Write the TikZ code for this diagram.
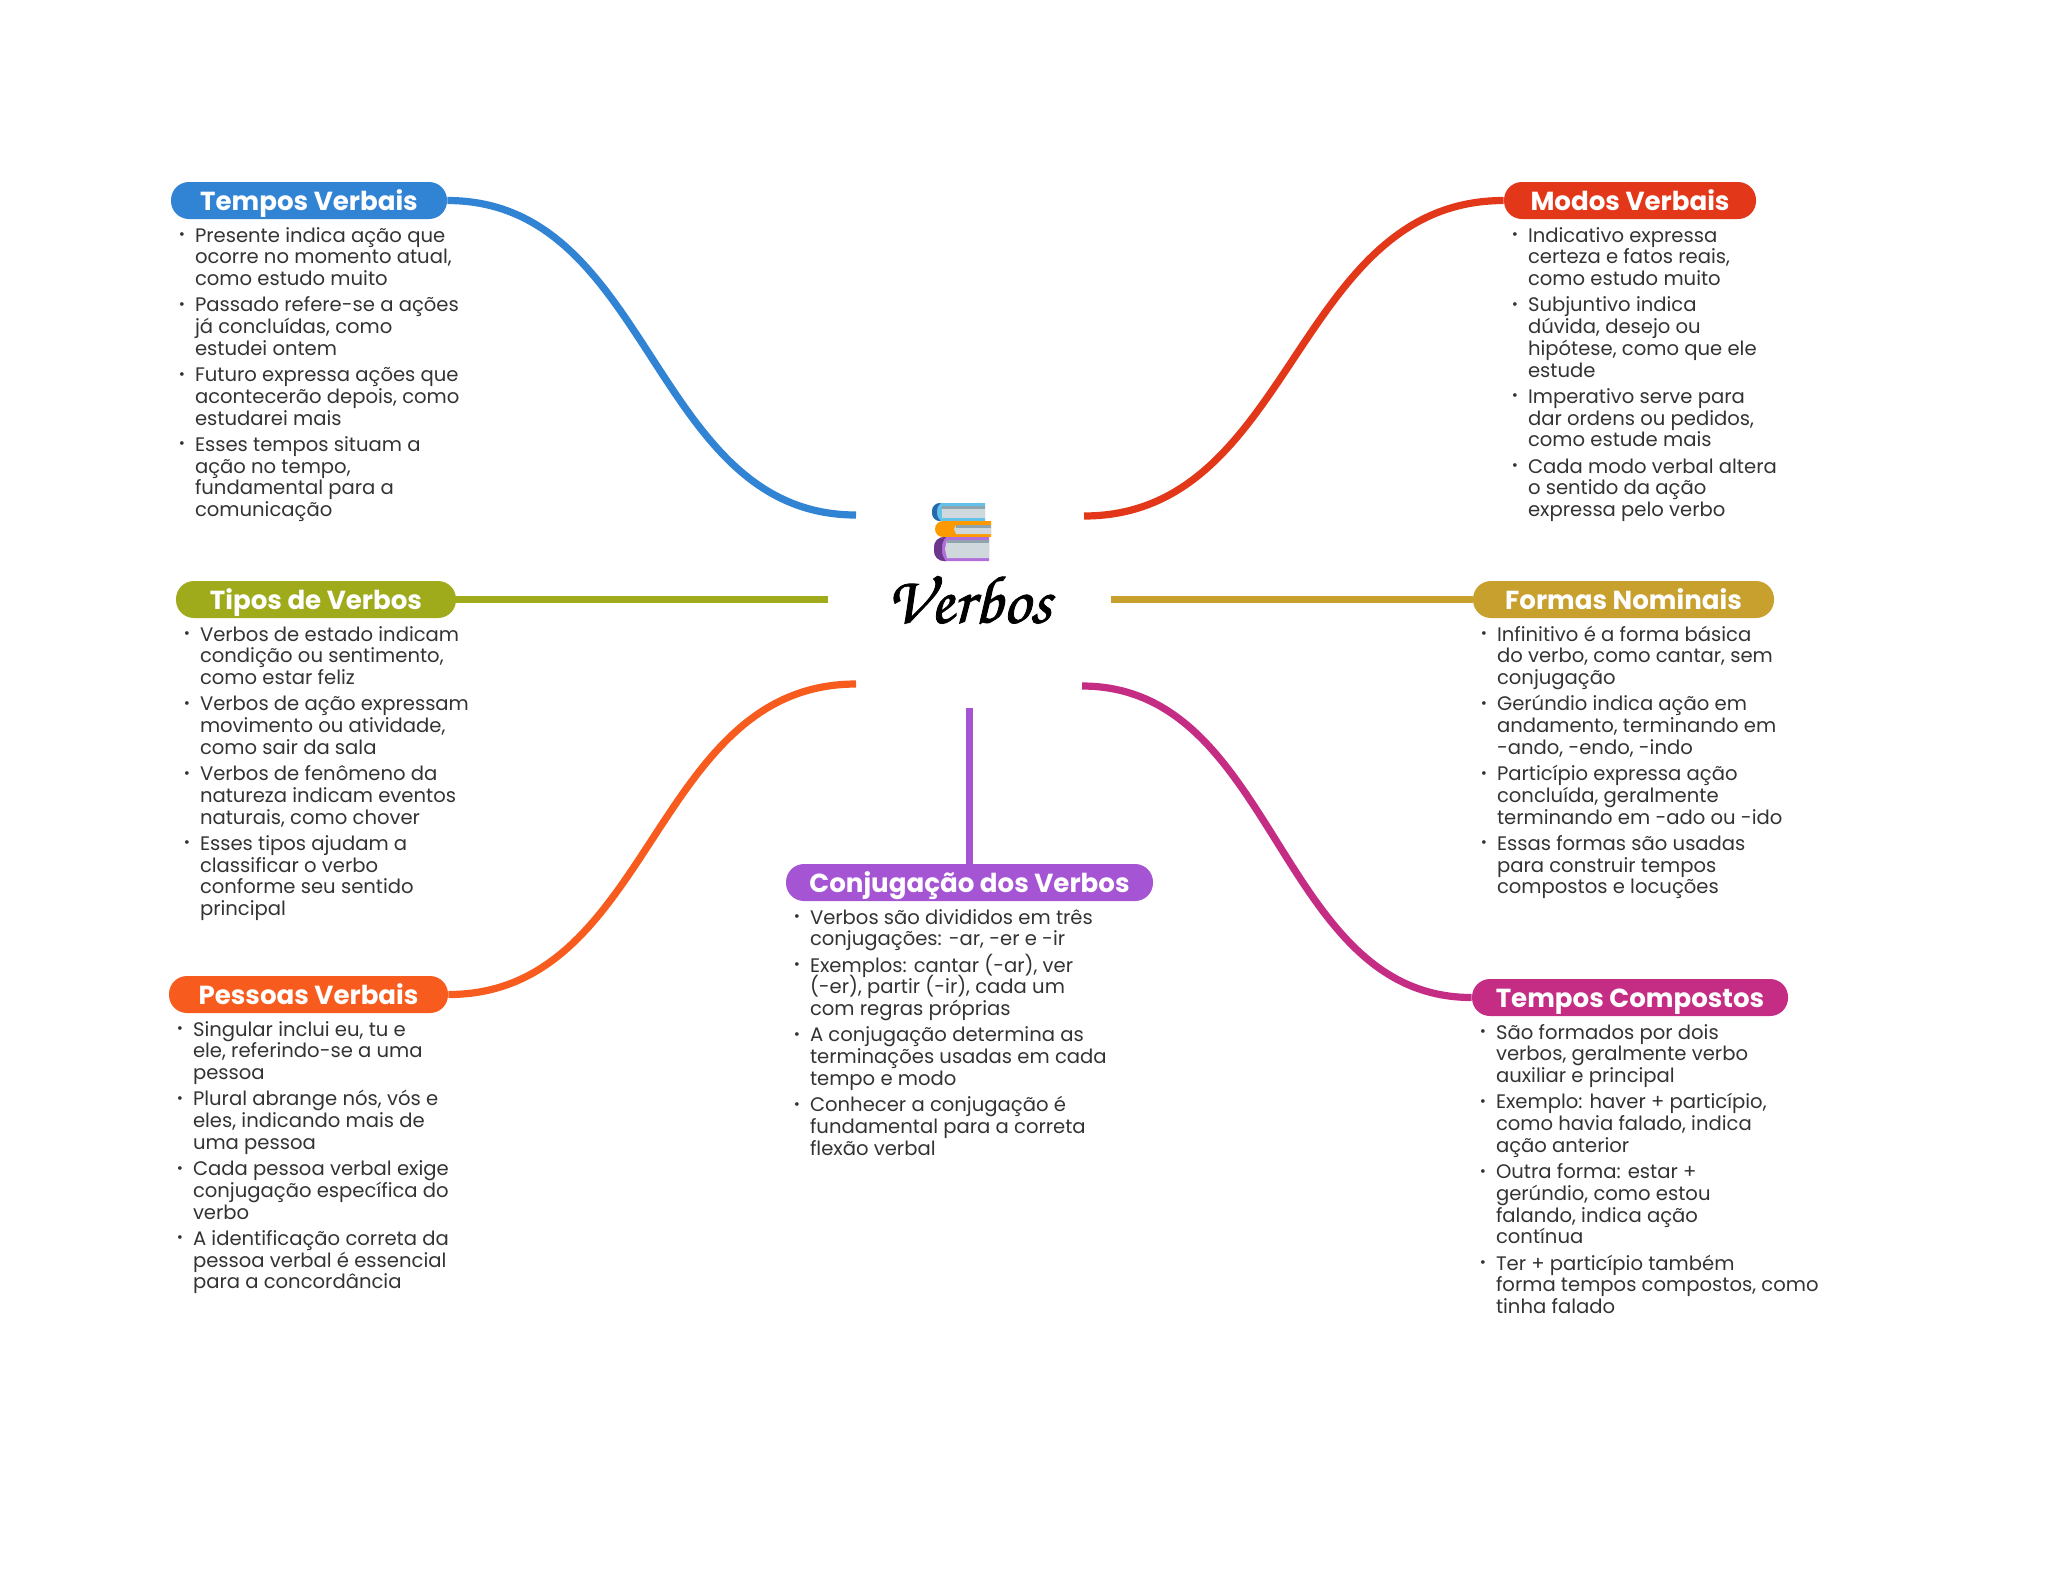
\documentclass[tikz,border=0pt]{standalone}
\usepackage{fontspec}
\setmainfont{Poppins}
\newfontfamily\titlefont[RawFeature={embolden=1.2}]{TeX Gyre Chorus}
\usepackage{xcolor}
\usetikzlibrary{positioning}
\definecolor{tempocol}{HTML}{3183D4}
\definecolor{modocol}{HTML}{E3371A}
\definecolor{tipocol}{HTML}{A0AB1C}
\definecolor{formacol}{HTML}{C8A02E}
\definecolor{pessoacol}{HTML}{F75C1E}
\definecolor{compostocol}{HTML}{C52C84}
\definecolor{conjcol}{HTML}{A555D4}
\definecolor{bodytext}{HTML}{333333}
\definecolor{bookpage}{HTML}{CFD8DC}
\definecolor{bookband}{HTML}{90A4AE}
\newcommand{\itm}{\leavevmode\rule{0pt}{8pt}\llap{\raisebox{1.2pt}{\fontsize{7.5}{7.5}\selectfont •}\hspace{5pt}}}
\newcommand{\nxt}{\\[2.3pt]}
\AtBeginDocument{\normallineskiplimit=-5pt\relax\lineskiplimit=-5pt\relax}

\begin{document}
\begin{tikzpicture}[
    x=0.5pt, y=-0.5pt,
    head/.style={fill=#1, text=white, rounded corners=9pt, inner sep=0pt, minimum height=18.5pt,
      text height=12.6pt, text depth=2.5pt, font=\fontsize{13.05}{13}\selectfont\bfseries},
    itemlist/.style={anchor=north west, align=left, inner sep=0pt, text=bodytext, xshift=12pt, yshift=-3.2pt,
      font=\fontsize{9.8}{10.85}\selectfont},
    link/.style={draw=#1, line width=3.6pt}
  ]
    \useasboundingbox (0,0) rectangle (2048,1569);
    % headers
    \node[head=tempocol, minimum width=138pt] (tempos) at (309,200.5) {Tempos Verbais};
    \node[head=modocol, minimum width=126pt] (modos) at (1630,200.5) {Modos Verbais};
    \node[head=tipocol, minimum width=140pt] (tipos) at (316,599.5) {Tipos de Verbos};
    \node[head=formacol, minimum width=150.5pt] (formas) at (1623.5,599.5) {Formas Nominais};
    \node[head=pessoacol, minimum width=139.5pt] (pessoas) at (308.5,994.5) {Pessoas Verbais};
    \node[head=compostocol, minimum width=158pt] (compostos) at (1630,997.5) {Tempos Compostos};
    \node[head=conjcol, minimum width=183.5pt] (conj) at (969.5,882.5) {Conjugação dos Verbos};
    % centre
    \node[font=\titlefont\fontsize{34}{34}\selectfont, inner sep=0pt] (verbos) at (969,600) {Verbos};
    \coordinate (hubtempos) at (856,515);
    \coordinate (hubmodos) at (1084,516);
    \coordinate (hubtipos) at (828,599.5);
    \coordinate (hubformas) at (1111,599.5);
    \coordinate (hubpessoas) at (856,684);
    \coordinate (hubcompostos) at (1082,686);
    \coordinate (hubconj) at (969.5,708);
    % connectors
    \draw[link=tempocol] (tempos.east) .. controls +(205,0) and +(-205,0) .. (hubtempos);
    \draw[link=modocol] (modos.west) .. controls +(-210,0) and +(210,0) .. (hubmodos);
    \draw[link=tipocol] (tipos.east) -- (hubtipos);
    \draw[link=formacol] (formas.west) -- (hubformas);
    \draw[link=pessoacol] (pessoas.east) .. controls +(205,0) and +(-205,0) .. (hubpessoas);
    \draw[link=compostocol] (compostos.west) .. controls +(-195,0) and +(195,0) .. (hubcompostos);
    \draw[link=conjcol] (conj.north) -- (hubconj);
    % books
    \fill[tempocol!70!cyan!70!white] (985,503) [rounded corners=4pt] -- (932,503) -- (932,521) [sharp corners] -- (985,521) -- cycle;
    \fill[black!20!tempocol] (941,503) [rounded corners=4pt] -- (932,503) -- (932,521) [sharp corners] -- (941,521) [rounded corners=2pt] -- (937,518) -- (937,506) [sharp corners] -- cycle;
    \fill[bookpage] (985,505.5) -- (942,505.5) -- (942,518) -- (985,518) -- cycle;
    \fill[bookband] (985,505.5) rectangle (942,509);
    \fill[orange!80!yellow] (991,521) [rounded corners=4pt] -- (935,521) -- (935,537) [sharp corners] -- (991,537) -- cycle;
    \fill[bookpage] (991,525) -- (956,525) -- (954,529) -- (956,534) -- (991,534) -- cycle;
    \fill[bookband] (991,525) rectangle (956,528);
    \fill[conjcol!85!white] (989,537) [rounded corners=5pt] -- (934,537) -- (934,561) [sharp corners] -- (989,561) -- cycle;
    \fill[black!35!conjcol] (946,537) [rounded corners=5pt] -- (934,537) -- (934,561) [sharp corners] -- (946,561) [rounded corners=2pt] -- (942,556) -- (942,542) [sharp corners] -- cycle;
    \fill[bookpage] (989,540) -- (947,540) -- (945,549) -- (947,558) -- (989,558) -- cycle;
    \fill[bookband] (989,540) rectangle (947,543);
    % lists
    \node[itemlist] (temposlist) at (tempos.south west) {\itm Presente indica ação que\\ocorre no momento atual,\\como estudo muito\nxt
      \itm Passado refere-se a ações\\já concluídas, como\\estudei ontem\nxt
      \itm Futuro expressa ações que\\acontecerão depois, como\\estudarei mais\nxt
      \itm Esses tempos situam a\\ação no tempo,\\fundamental para a\\comunicação};
    \node[itemlist] (modoslist) at (modos.south west) {\itm Indicativo expressa\\certeza e fatos reais,\\como estudo muito\nxt
      \itm Subjuntivo indica\\dúvida, desejo ou\\hipótese, como que ele\\estude\nxt
      \itm Imperativo serve para\\dar ordens ou pedidos,\\como estude mais\nxt
      \itm Cada modo verbal altera\\o sentido da ação\\expressa pelo verbo};
    \node[itemlist] (tiposlist) at (tipos.south west) {\itm Verbos de estado indicam\\condição ou sentimento,\\como estar feliz\nxt
      \itm Verbos de ação expressam\\movimento ou atividade,\\como sair da sala\nxt
      \itm Verbos de fenômeno da\\natureza indicam eventos\\naturais, como chover\nxt
      \itm Esses tipos ajudam a\\classificar o verbo\\conforme seu sentido\\principal};
    \node[itemlist] (formaslist) at (formas.south west) {\itm Infinitivo é a forma básica\\do verbo, como cantar, sem\\conjugação\nxt
      \itm Gerúndio indica ação em\\andamento, terminando em\\-ando, -endo, -indo\nxt
      \itm Particípio expressa ação\\concluída, geralmente\\terminando em -ado ou -ido\nxt
      \itm Essas formas são usadas\\para construir tempos\\compostos e locuções};
    \node[itemlist] (pessoaslist) at (pessoas.south west) {\itm Singular inclui eu, tu e\\ele, referindo-se a uma\\pessoa\nxt
      \itm Plural abrange nós, vós e\\eles, indicando mais de\\uma pessoa\nxt
      \itm Cada pessoa verbal exige\\conjugação específica do\\verbo\nxt
      \itm A identificação correta da\\pessoa verbal é essencial\\para a concordância};
    \node[itemlist] (compostoslist) at (compostos.south west) {\itm São formados por dois\\verbos, geralmente verbo\\auxiliar e principal\nxt
      \itm Exemplo: haver + particípio,\\como havia falado, indica\\ação anterior\nxt
      \itm Outra forma: estar +\\gerúndio, como estou\\falando, indica ação\\contínua\nxt
      \itm Ter + particípio também\\forma tempos compostos, como\\tinha falado};
    \node[itemlist] (conjlist) at (conj.south west) {\itm Verbos são divididos em três\\conjugações: -ar, -er e -ir\nxt
      \itm Exemplos: cantar (-ar), ver\\(-er), partir (-ir), cada um\\com regras próprias\nxt
      \itm A conjugação determina as\\terminações usadas em cada\\tempo e modo\nxt
      \itm Conhecer a conjugação é\\fundamental para a correta\\flexão verbal};
  \end{tikzpicture}
\end{document}
